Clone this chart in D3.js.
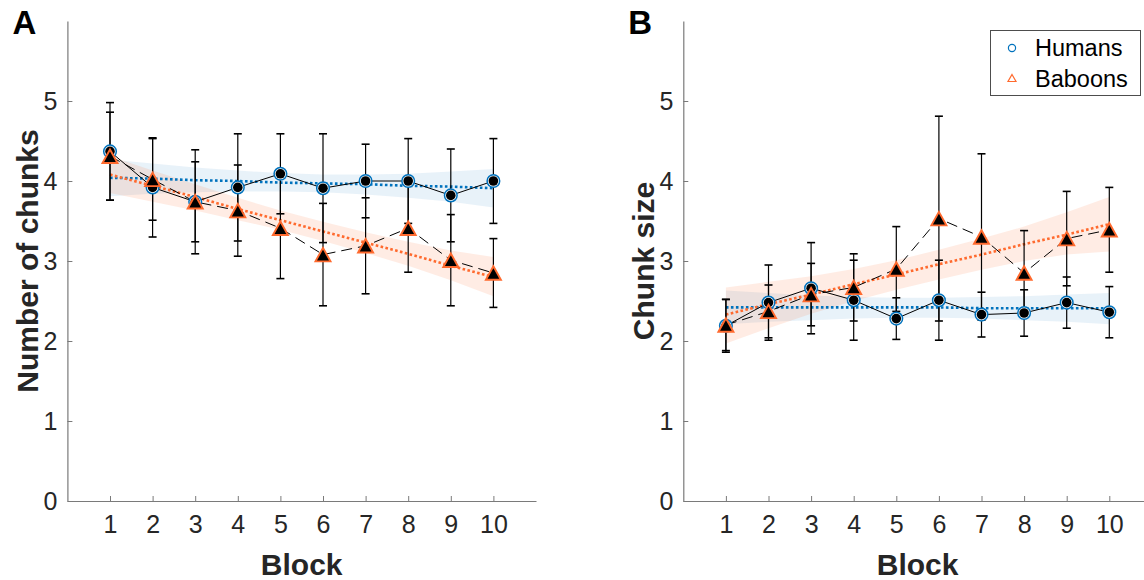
<!DOCTYPE html>
<html>
<head>
<meta charset="utf-8">
<script src="https://cdn.jsdelivr.net/npm/d3@7"></script>
<style>
  html, body { margin: 0; padding: 0; background: #fff; }
  svg { display: block; font-family: "Liberation Sans", Arial, Helvetica, sans-serif; }
</style>
</head>
<body>
<svg id="chart" width="1144" height="580"></svg>
<script>
// ---------------- data ----------------
const blocks = [1, 2, 3, 4, 5, 6, 7, 8, 9, 10];
const xTicks = [1, 2, 3, 4, 5, 6, 7, 8, 9, 10];
const yTicks = [0, 1, 2, 3, 4, 5];
const seriesNames = ["Humans", "Baboons"];

// Panel A: Number of chunks
const humansChunks     = [4.37, 3.92, 3.74, 3.92, 4.09, 3.91, 4.00, 4.00, 3.82, 4.00];
const humansChunksErr  = [0.61, 0.62, 0.50, 0.67, 0.50, 0.68, 0.46, 0.53, 0.58, 0.53];
const baboonsChunks    = [4.31, 4.02, 3.74, 3.63, 3.41, 3.08, 3.19, 3.41, 3.01, 2.85];
const baboonsChunksErr = [0.55, 0.51, 0.65, 0.57, 0.63, 0.64, 0.60, 0.55, 0.57, 0.43];

const humansChunksFit    = [4.04, 4.03, 4.01, 4.00, 3.98, 3.97, 3.96, 3.94, 3.93, 3.91];
const humansChunksFitHi  = [4.27, 4.22, 4.17, 4.13, 4.10, 4.08, 4.08, 4.09, 4.12, 4.15];
const humansChunksFitLo  = [3.81, 3.84, 3.86, 3.87, 3.87, 3.86, 3.83, 3.79, 3.74, 3.67];
const baboonsChunksFit   = [4.08, 3.94, 3.80, 3.65, 3.51, 3.37, 3.23, 3.09, 2.94, 2.80];
const baboonsChunksFitHi = [4.31, 4.13, 3.96, 3.79, 3.63, 3.49, 3.36, 3.24, 3.13, 3.05];
const baboonsChunksFitLo = [3.85, 3.74, 3.63, 3.51, 3.39, 3.25, 3.10, 2.94, 2.76, 2.56];

// Panel B: Chunk size
const humansSize     = [2.19, 2.48, 2.66, 2.51, 2.28, 2.51, 2.33, 2.35, 2.48, 2.36];
const humansSizeErr  = [0.33, 0.47, 0.57, 0.50, 0.26, 0.50, 0.28, 0.29, 0.32, 0.32];
const baboonsSize    = [2.20, 2.37, 2.58, 2.67, 2.90, 3.53, 3.30, 2.85, 3.28, 3.39];
const baboonsSizeErr = [0.32, 0.33, 0.39, 0.42, 0.53, 1.28, 1.04, 0.53, 0.59, 0.53];

const humansSizeFit    = [2.42, 2.42, 2.42, 2.42, 2.42, 2.42, 2.41, 2.41, 2.41, 2.41];
const humansSizeFitHi  = [2.63, 2.60, 2.57, 2.55, 2.54, 2.54, 2.55, 2.56, 2.58, 2.60];
const humansSizeFitLo  = [2.21, 2.24, 2.26, 2.28, 2.29, 2.29, 2.28, 2.26, 2.24, 2.21];
const baboonsSizeFit   = [2.33, 2.46, 2.58, 2.71, 2.83, 2.96, 3.08, 3.21, 3.33, 3.46];
const baboonsSizeFitHi = [2.67, 2.74, 2.81, 2.90, 3.01, 3.14, 3.28, 3.43, 3.61, 3.80];
const baboonsSizeFitLo = [1.97, 2.16, 2.34, 2.50, 2.64, 2.77, 2.89, 3.00, 3.08, 3.12];

// ---------------- style ----------------
const BLUE = "#0072BD";
const ORANGE = "#FF6A2E";
const AXIS = "#7a7a7a";
const TXT = "#262626";
const FONT_TICK = 25;
const FONT_LABEL = 30;

const svg = d3.select("#chart");

function trianglePath(cx, cy, w, h) {
  return `M${cx},${cy - h / 2}L${cx + w / 2},${cy + h / 2}L${cx - w / 2},${cy + h / 2}Z`;
}

function drawPanel(opt) {
  const x = d3.scaleLinear().domain([0, 11]).range([opt.left, opt.left + 468.6]);
  const y = d3.scaleLinear().domain([0, 6]).range([501, 21]);
  const g = svg.append("g");

  // confidence bands
  const area = (hi, lo) => d3.area()
    .x((d, i) => x(blocks[i]))
    .y0((d, i) => y(lo[i]))
    .y1((d, i) => y(hi[i]))(blocks);
  g.append("path").attr("d", area(opt.hFitHi, opt.hFitLo))
    .attr("fill", BLUE).attr("fill-opacity", 0.09);
  g.append("path").attr("d", area(opt.bFitHi, opt.bFitLo))
    .attr("fill", ORANGE).attr("fill-opacity", 0.13);

  const line = d3.line().x((d, i) => x(blocks[i])).y(d => y(d));

  // fit lines
  g.append("path").attr("d", line(opt.hFit)).attr("fill", "none")
    .attr("stroke", BLUE).attr("stroke-width", 2.6).attr("stroke-dasharray", "2.6,2.4");
  g.append("path").attr("d", line(opt.bFit)).attr("fill", "none")
    .attr("stroke", ORANGE).attr("stroke-width", 2.6).attr("stroke-dasharray", "2.6,2.4");

  function errorbars(vals, errs) {
    const eg = g.append("g").attr("stroke", "#000").attr("fill", "none");
    blocks.forEach((b, i) => {
      const cx = x(b);
      eg.append("line").attr("x1", cx).attr("x2", cx)
        .attr("y1", y(vals[i] - errs[i])).attr("y2", y(vals[i] + errs[i]))
        .attr("stroke-width", 1.2);
      [vals[i] - errs[i], vals[i] + errs[i]].forEach(v => {
        eg.append("line").attr("x1", cx - 4).attr("x2", cx + 4)
          .attr("y1", y(v)).attr("y2", y(v)).attr("stroke-width", 1.6);
      });
    });
  }

  // humans series
  errorbars(opt.h, opt.hErr);
  g.append("path").attr("d", line(opt.h)).attr("fill", "none")
    .attr("stroke", "#000").attr("stroke-width", 1);
  // baboons series
  errorbars(opt.b, opt.bErr);
  g.append("path").attr("d", line(opt.b)).attr("fill", "none")
    .attr("stroke", "#000").attr("stroke-width", 1).attr("stroke-dasharray", "11,6");

  // humans markers
  g.selectAll(null).data(opt.h).enter().append("circle")
    .attr("cx", (d, i) => x(blocks[i])).attr("cy", d => y(d)).attr("r", 6.3)
    .attr("fill", "#fff").attr("stroke", BLUE).attr("stroke-width", 1.5);
  g.selectAll(null).data(opt.h).enter().append("circle")
    .attr("cx", (d, i) => x(blocks[i])).attr("cy", d => y(d)).attr("r", 4.8)
    .attr("fill", "#000");
  // baboons markers
  g.selectAll(null).data(opt.b).enter().append("path")
    .attr("d", (d, i) => trianglePath(x(blocks[i]), y(d), 15, 13.5))
    .attr("fill", "#000").attr("stroke", ORANGE).attr("stroke-width", 1.9)
    .attr("stroke-linejoin", "miter");

  // axes
  const xAxis = d3.axisBottom(x).tickValues(xTicks).tickFormat(d3.format("d"))
    .tickSize(-5).tickPadding(14).tickSizeOuter(0);
  const gx = g.append("g").attr("transform", "translate(0,501)").call(xAxis);
  const yAxis = d3.axisLeft(y).tickValues(yTicks).tickFormat(d3.format("d"))
    .tickSize(-5).tickPadding(10).tickSizeOuter(0);
  const gy = g.append("g").attr("transform", `translate(${opt.left},0)`).call(yAxis);
  [gx, gy].forEach(a => {
    a.select(".domain").attr("stroke", AXIS).attr("stroke-width", 1.2);
    a.selectAll(".tick line").attr("stroke", AXIS).attr("stroke-width", 1);
    a.selectAll(".tick text").attr("fill", TXT).style("font-size", FONT_TICK + "px")
      .style("font-family", '"Liberation Sans", Arial, sans-serif');
  });
  gx.selectAll(".tick text").attr("dy", "0.71em");

  // labels
  g.append("text").attr("x", x(5.5)).attr("y", 575).attr("text-anchor", "middle")
    .attr("fill", TXT).style("font-size", FONT_LABEL + "px").style("font-weight", "bold")
    .text("Block");
  g.append("text").attr("transform", `translate(${opt.left - 29},261) rotate(-90)`)
    .attr("text-anchor", "middle").attr("fill", TXT)
    .style("font-size", FONT_LABEL + "px").style("font-weight", "bold")
    .text(opt.ylabel);
  g.append("text").attr("x", opt.left - 55).attr("y", 34).attr("fill", "#000")
    .style("font-size", "33px").style("font-weight", "bold").text(opt.letter);
}

drawPanel({
  left: 67.4, letter: "A", ylabel: "Number of chunks",
  h: humansChunks, hErr: humansChunksErr, b: baboonsChunks, bErr: baboonsChunksErr,
  hFit: humansChunksFit, hFitHi: humansChunksFitHi, hFitLo: humansChunksFitLo,
  bFit: baboonsChunksFit, bFitHi: baboonsChunksFitHi, bFitLo: baboonsChunksFitLo
});
drawPanel({
  left: 683.3, letter: "B", ylabel: "Chunk size",
  h: humansSize, hErr: humansSizeErr, b: baboonsSize, bErr: baboonsSizeErr,
  hFit: humansSizeFit, hFitHi: humansSizeFitHi, hFitLo: humansSizeFitLo,
  bFit: baboonsSizeFit, bFitHi: baboonsSizeFitHi, bFitLo: baboonsSizeFitLo
});

// legend
const lg = svg.append("g");
lg.append("rect").attr("x", 990.5).attr("y", 30.5).attr("width", 150).attr("height", 65)
  .attr("fill", "#fff").attr("stroke", "#4d4d4d").attr("stroke-width", 1);
lg.append("circle").attr("cx", 1012).attr("cy", 48).attr("r", 3.6)
  .attr("fill", "none").attr("stroke", BLUE).attr("stroke-width", 1.2);
lg.append("path").attr("d", trianglePath(1012, 78, 8, 7))
  .attr("fill", "none").attr("stroke", ORANGE).attr("stroke-width", 1.2);
lg.selectAll(null).data(seriesNames).enter().append("text")
  .attr("x", 1035).attr("y", (d, i) => 56 + i * 30.5)
  .attr("fill", "#000").style("font-size", "23.5px").text(d => d);
</script>
</body>
</html>
